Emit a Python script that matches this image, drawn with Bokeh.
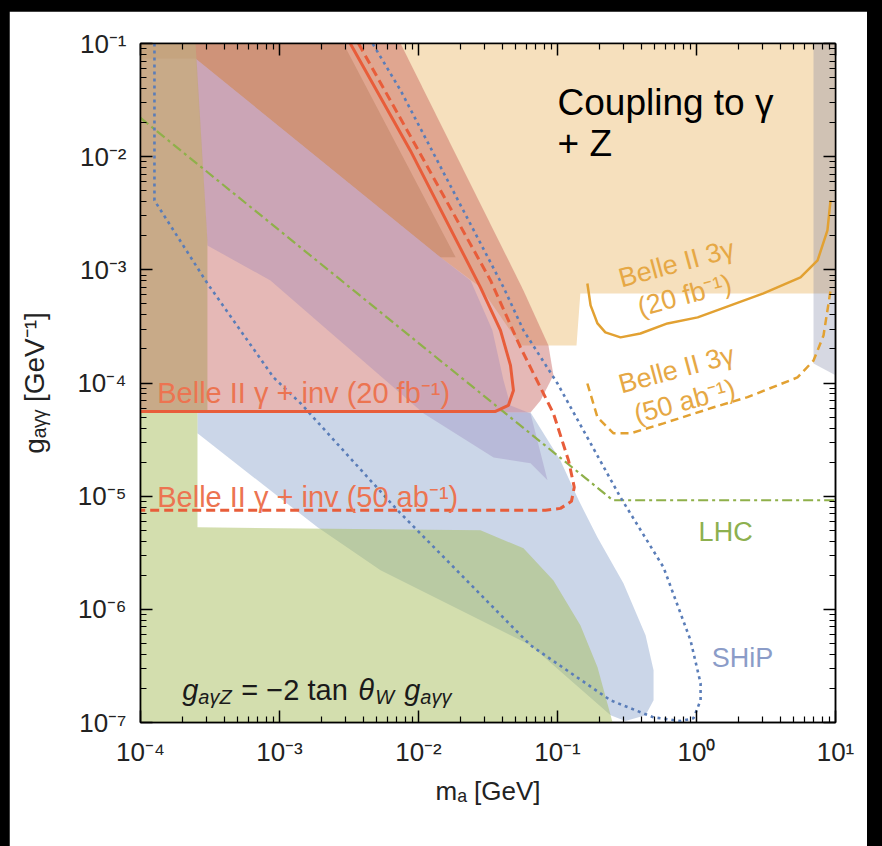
import math
from bokeh.plotting import figure
from bokeh.models import Range1d, LogAxis, FixedTicker, CustomJSTickFormatter
from bokeh.layouts import column
from bokeh.embed import file_html
from bokeh.resources import INLINE
from bokeh.core.properties import value

FONT = "Liberation Sans"

# ---------------- axis ticks ----------------
x_major = [1e-4, 1e-3, 1e-2, 1e-1, 1e0, 1e1]
y_major = [1e-7, 1e-6, 1e-5, 1e-4, 1e-3, 1e-2, 1e-1]
x_minor = [k * 10.0 ** e for e in range(-4, 1) for k in range(2, 10)]
y_minor = [k * 10.0 ** e for e in range(-7, -1) for k in range(2, 10)]

# ---------------- regions (m_a [GeV], g [GeV^-1]) ----------------
beige_m = [1e-4, 10, 10, 0.146, 0.137, 0.0542, 0.0279, 0.0144, 2.49e-4, 1e-4]
beige_g = [0.1, 0.1, 6.19e-4, 6.19e-4, 2.15e-4, 2.15e-4, 7.0e-4, 1.29e-3, 7.37e-2, 7.37e-2]

salmon_m = [1e-4, 7.43e-3, 5.69e-2, 8.61e-2, 9.35e-2, 7.55e-2, 6.40e-2, 1e-4]
salmon_g = [0.1, 0.1, 6.58e-4, 2.15e-4, 1.17e-4, 7.0e-5, 5.5e-5, 5.5e-5]

brown_m = [1e-4, 2.88e-3, 1.85e-2, 1.44e-2, 2.49e-4, 1e-4]
brown_g = [0.1, 0.1, 1.29e-3, 1.29e-3, 7.37e-2, 7.37e-2]

blue_m = [2.57e-4, 6.40e-2, 0.105, 0.142, 0.194, 0.298, 0.430, 0.491, 0.491, 0.430,
          0.308, 0.241, 6.40e-2, 5.33e-3, 1.88e-3, 2.57e-4]
blue_g = [5.5e-5, 5.5e-5, 2.07e-5, 9.18e-6, 4.32e-6, 1.70e-6, 5.89e-7, 2.89e-7, 1.57e-7, 1.16e-7,
          1.03e-7, 1.16e-7, 4.81e-7, 2.21e-6, 5.30e-6, 3.59e-5]

green_m = [1e-4, 2.57e-4, 2.57e-4, 2.79e-2, 5.69e-2, 9.35e-2, 0.146, 0.194, 0.249, 1e-4]
green_g = [5.5e-5, 5.5e-5, 5.3e-6, 4.99e-6, 3.46e-6, 1.80e-6, 7.23e-7, 3.08e-7, 1e-7, 1e-7]

purple_m = [2.49e-4, 1.44e-2, 2.37e-2, 3.40e-2, 4.09e-2, 4.59e-2, 6.40e-2, 8.47e-2,
            6.40e-2, 3.47e-2, 1.09e-2, 8.61e-4, 3.03e-4]
purple_g = [7.37e-2, 1.29e-3, 8.06e-4, 2.92e-4, 1.05e-4, 6.34e-5, 5.38e-5, 1.38e-5,
            1.95e-5, 2.20e-5, 5.38e-5, 8.06e-4, 1.64e-3]

lstrip_m = [1e-4, 2.49e-4, 3.03e-4, 3.03e-4, 1e-4]
lstrip_g = [0.1, 0.1, 1.82e-3, 5.5e-5, 5.5e-5]

rstrip_m = [6.95, 10, 10, 6.95]
rstrip_g = [0.1, 0.1, 1.17e-4, 1.49e-4]

# ---------------- curves ----------------
inv20_m = [3.23e-3, 8.75e-3, 2.79e-2, 3.89e-2, 4.59e-2, 4.82e-2, 4.43e-2, 3.58e-2, 1e-4]
inv20_g = [0.1, 1.13e-2, 7.0e-4, 2.92e-4, 1.43e-4, 8.6e-5, 6.34e-5, 5.61e-5, 5.61e-5]

inv50_m = [3.70e-3, 1.0e-2, 3.30e-2, 5.42e-2, 9.35e-2, 0.120, 0.132, 0.126, 0.105, 0.082, 1e-4]
inv50_g = [0.1, 1.13e-2, 8.06e-4, 2.06e-4, 5.38e-5, 2.07e-5, 1.2e-5, 9.0e-6, 7.8e-6, 7.5e-6, 7.5e-6]

ship_m = [1.26e-4, 1.26e-4, 3.03e-4, 9.06e-4, 1.42e-3, 7.07e-3, 6.40e-2, 0.241, 0.491, 0.767,
          0.951, 1.07, 1.07, 0.906, 0.579, 0.284, 0.1, 5.69e-2, 4.09e-2, 7.43e-3, 4.67e-3]
ship_g = [0.1, 4.10e-3, 7.58e-4, 1.12e-4, 6.6e-5, 7.5e-6, 4.81e-7, 1.57e-7, 1.11e-7, 1.03e-7,
          1.09e-7, 1.57e-7, 2.22e-7, 5.32e-7, 2.35e-6, 9.76e-6, 9.9e-5, 2.92e-4, 7.0e-4, 3.85e-2, 0.1]

lhc_m = [1e-4, 0.25, 10]
lhc_g = [2.2e-2, 9.2e-6, 9.2e-6]

g3_20_m = [0.164, 0.173, 0.194, 0.221, 0.284, 0.395, 0.618, 1.02, 3.03, 5.60, 7.43, 8.75, 9.21]
g3_20_g = [7.58e-4, 4.85e-4, 3.36e-4, 2.80e-4, 2.53e-4, 2.74e-4, 3.36e-4, 3.80e-4, 6.19e-4,
           8.57e-4, 1.21e-3, 2.23e-3, 4.10e-3]

g3_50_m = [0.164, 0.194, 0.253, 0.335, 0.579, 1.33, 2.33, 5.33, 6.95, 8.2, 9.21]
g3_50_g = [9.9e-5, 4.96e-5, 3.59e-5, 3.59e-5, 4.40e-5, 6.1e-5, 7.5e-5, 1.12e-4, 1.58e-4, 2.63e-4, 6.58e-4]

# ---------------- figure ----------------
W, H = 858, 835
p = figure(width=W, height=H, x_axis_type="log", y_axis_type="log",
           x_range=Range1d(1e-4, 10), y_range=Range1d(1e-7, 0.1),
           output_backend="svg", toolbar_location=None,
           min_border_left=131, min_border_right=32, min_border_top=32, min_border_bottom=124)
p.grid.visible = False
p.background_fill_color = "white"
p.border_fill_color = "white"
p.outline_line_color = "black"
p.outline_line_width = 1.5

sup_code = """
const e = Math.round(Math.log10(tick));
const sup = {'-':'\u207b','0':'\u2070','1':'\u00b9','2':'\u00b2','3':'\u00b3','4':'\u2074',
             '5':'\u2075','6':'\u2076','7':'\u2077','8':'\u2078','9':'\u2079'};
return '10' + String(e).split('').map(c => sup[c]).join('');
"""


def style_axis(ax, major, minor, labels):
    ax.ticker = FixedTicker(ticks=major, minor_ticks=minor)
    ax.axis_line_color = "black"
    ax.axis_line_width = 1.5
    ax.major_tick_in = 12
    ax.major_tick_out = 0
    ax.major_tick_line_color = "black"
    ax.major_tick_line_width = 1.5
    ax.minor_tick_in = 6
    ax.minor_tick_out = 0
    ax.minor_tick_line_color = "black"
    ax.minor_tick_line_width = 1.2
    if labels:
        ax.formatter = CustomJSTickFormatter(code=sup_code)
        ax.major_label_text_font = FONT
        ax.major_label_text_font_size = "26px"
        ax.major_label_text_color = "#222222"
        ax.major_label_standoff = 14
        ax.axis_label_text_font = FONT
        ax.axis_label_text_font_size = "26px"
        ax.axis_label_text_font_style = "normal"
        ax.axis_label_text_color = "#222222"
    else:
        ax.formatter = CustomJSTickFormatter(code="return '';")
        ax.major_label_text_font_size = "0px"


style_axis(p.xaxis[0], x_major, x_minor, True)
style_axis(p.yaxis[0], y_major, y_minor, True)
p.xaxis[0].axis_label = "m\u2090 [GeV]"
p.xaxis[0].axis_label_standoff = 6
p.yaxis[0].axis_label = "g\u2090\u1d67\u1d67 [GeV\u207b\u00b9]"
p.yaxis[0].axis_label_text_font_size = "28px"
p.yaxis[0].axis_label_standoff = 24
top_ax = LogAxis()
right_ax = LogAxis()
style_axis(top_ax, x_major, x_minor, False)
style_axis(right_ax, y_major, y_minor, False)
p.add_layout(top_ax, "above")
p.add_layout(right_ax, "right")

# ---------------- filled regions ----------------
p.patch(beige_m, beige_g, fill_color="#f6e0bd", fill_alpha=1.0, line_color=None)
p.patch(salmon_m, salmon_g, fill_color="#c25a55", fill_alpha=0.43, line_color=None)
p.patch(brown_m, brown_g, fill_color="#9c5a32", fill_alpha=0.25, line_color=None)
p.patch(blue_m, blue_g, fill_color="#97add1", fill_alpha=0.5, line_color=None)
p.patch(green_m, green_g, fill_color="#a7bd5d", fill_alpha=0.5, line_color=None)
p.patch(purple_m, purple_g, fill_color="#8f79b6", fill_alpha=0.3, line_color=None)
p.patch(lstrip_m, lstrip_g, fill_color="#c3a780", fill_alpha=0.85, line_color=None)
p.patch(rstrip_m, rstrip_g, fill_color="#767d9e", fill_alpha=0.3, line_color=None)

# ---------------- curves ----------------
p.line(lhc_m, lhc_g, line_color="#8fb04a", line_width=2.2, line_dash="10 4 3 4")
p.line(ship_m, ship_g, line_color="#5a7db8", line_width=2.6, line_dash="3 4")
p.line(inv20_m, inv20_g, line_color="#e85d3a", line_width=3)
p.line(inv50_m, inv50_g, line_color="#e85d3a", line_width=3, line_dash="9 5")
p.line(g3_20_m, g3_20_g, line_color="#e2a132", line_width=2.5)
p.line(g3_50_m, g3_50_g, line_color="#e2a132", line_width=2.5, line_dash="8 5")

# ---------------- in-plot labels ----------------
p.text(x=[0.1, 0.1], y=[3.01e-2, 1.31e-2], text=["Coupling to \u03b3", "+ Z"],
       text_font=value(FONT), text_font_size="37px", text_color="black",
       text_align="left", text_baseline="alphabetic")

p.text(x=[1.32e-4, 1.32e-4], y=[8.1e-5, 9.76e-6],
       text=["Belle II \u03b3 + inv (20 fb\u207b\u00b9)", "Belle II \u03b3 + inv (50 ab\u207b\u00b9)"],
       text_font=value(FONT), text_font_size="29px", text_color="#ec7451",
       text_align="left", text_baseline="alphabetic")

ang = math.radians(15)
p.text(x=[0.718, 0.821, 0.718, 0.821], y=[1.14e-3, 5.94e-4, 1.32e-4, 6.87e-5],
       text=["Belle II 3\u03b3", "(20 fb\u207b\u00b9)", "Belle II 3\u03b3", "(50 ab\u207b\u00b9)"],
       angle=ang, text_font=value(FONT), text_font_size="27px", text_color="#e6a845",
       text_align="center", text_baseline="middle")

p.text(x=[1.62], y=[4.79e-6], text=["LHC"], text_font=value(FONT), text_font_size="27px",
       text_color="#8db04f", text_align="center", text_baseline="middle")
p.text(x=[2.14], y=[3.69e-7], text=["SHiP"], text_font=value(FONT), text_font_size="27px",
       text_color="#8b9cc8", text_align="center", text_baseline="middle")

# formula  g_{aγZ} = −2 tan θ_W g_{aγγ}
fx, fy = 2.0e-4, 1.92e-7
formula = [("g", 0, 0, "29px", "italic"),
           ("a\u03b3Z", 16, 7, "20px", "italic"),
           ("= \u22122 tan", 59, 0, "29px", "normal"),
           ("\u03b8", 176, 0, "29px", "italic"),
           ("W", 193, 7, "20px", "italic"),
           ("g", 222, 0, "29px", "italic"),
           ("a\u03b3\u03b3", 238, 7, "20px", "italic")]
for txt, dx, dy, fs, st in formula:
    p.text(x=[fx], y=[fy], text=[txt], x_offset=dx, y_offset=dy, text_font=value(FONT),
           text_font_size=fs, text_font_style=st, text_color="#1a1a1a",
           text_align="left", text_baseline="alphabetic")

root = column(p, styles={"background-color": "black", "padding": "11px 15px 0px 9px"})
open("out.html", "w").write(file_html(root, INLINE))
